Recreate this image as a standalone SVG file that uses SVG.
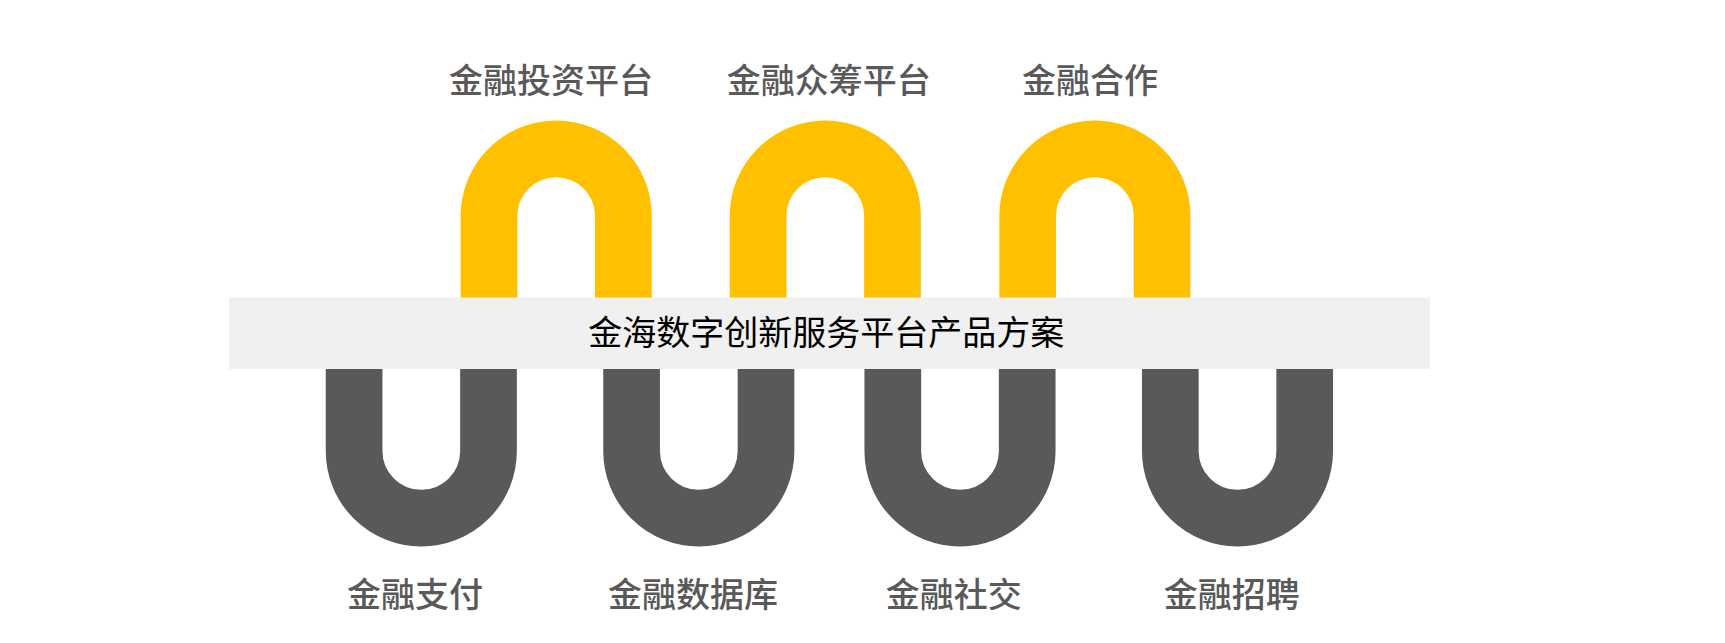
<svg xmlns="http://www.w3.org/2000/svg" width="1725" height="643" viewBox="0 0 1725 643">
  <style>
    .arch { fill: none; stroke: #FFC000; stroke-width: 56.7; stroke-linecap: butt; }
    .cup { fill: none; stroke: #595959; stroke-width: 56.7; stroke-linecap: butt; }
    .lbl { font-family: "Noto Sans CJK SC", "Noto Sans", sans-serif; font-size: 34px; font-weight: 500; fill: #595959; text-anchor: middle; }
    .title { font-family: "Noto Sans CJK SC", "Noto Sans", sans-serif; font-size: 34px; font-weight: 400; fill: #000000; text-anchor: middle; }
  </style>
  <rect width="1725" height="643" fill="#FFFFFF"/>
  <g id="connectors">
    <path class="arch" d="M 489 300 V 216 A 67.2 67.2 0 0 1 623.4 216 V 300"/>
    <path class="arch" d="M 758.1 300 V 216 A 67.2 67.2 0 0 1 892.5 216 V 300"/>
    <path class="arch" d="M 1027.7 300 V 216 A 67.2 67.2 0 0 1 1162.1 216 V 300"/>
    <path class="cup" d="M 354.1 366 V 451 A 67.2 67.2 0 0 0 488.5 451 V 366"/>
    <path class="cup" d="M 631.6 366 V 451 A 67.2 67.2 0 0 0 766 451 V 366"/>
    <path class="cup" d="M 892.8 366 V 451 A 67.2 67.2 0 0 0 1027.2 451 V 366"/>
    <path class="cup" d="M 1170.3 366 V 451 A 67.2 67.2 0 0 0 1304.7 451 V 366"/>
  </g>
  <g id="center">
    <rect x="229" y="297.5" width="1201" height="71.5" fill="#F0F0F0"/>
    <text class="title" x="826.3" y="345">金海数字创新服务平台产品方案</text>
  </g>
  <g id="node-invest"><text class="lbl" x="551" y="92.5">金融投资平台</text></g>
  <g id="node-crowd"><text class="lbl" x="828.7" y="92.5">金融众筹平台</text></g>
  <g id="node-coop"><text class="lbl" x="1090" y="92.5">金融合作</text></g>
  <g id="node-pay"><text class="lbl" x="415" y="607.3">金融支付</text></g>
  <g id="node-data"><text class="lbl" x="693" y="607.3">金融数据库</text></g>
  <g id="node-social"><text class="lbl" x="953.8" y="607.3">金融社交</text></g>
  <g id="node-hire"><text class="lbl" x="1231.7" y="607.3">金融招聘</text></g>
</svg>
